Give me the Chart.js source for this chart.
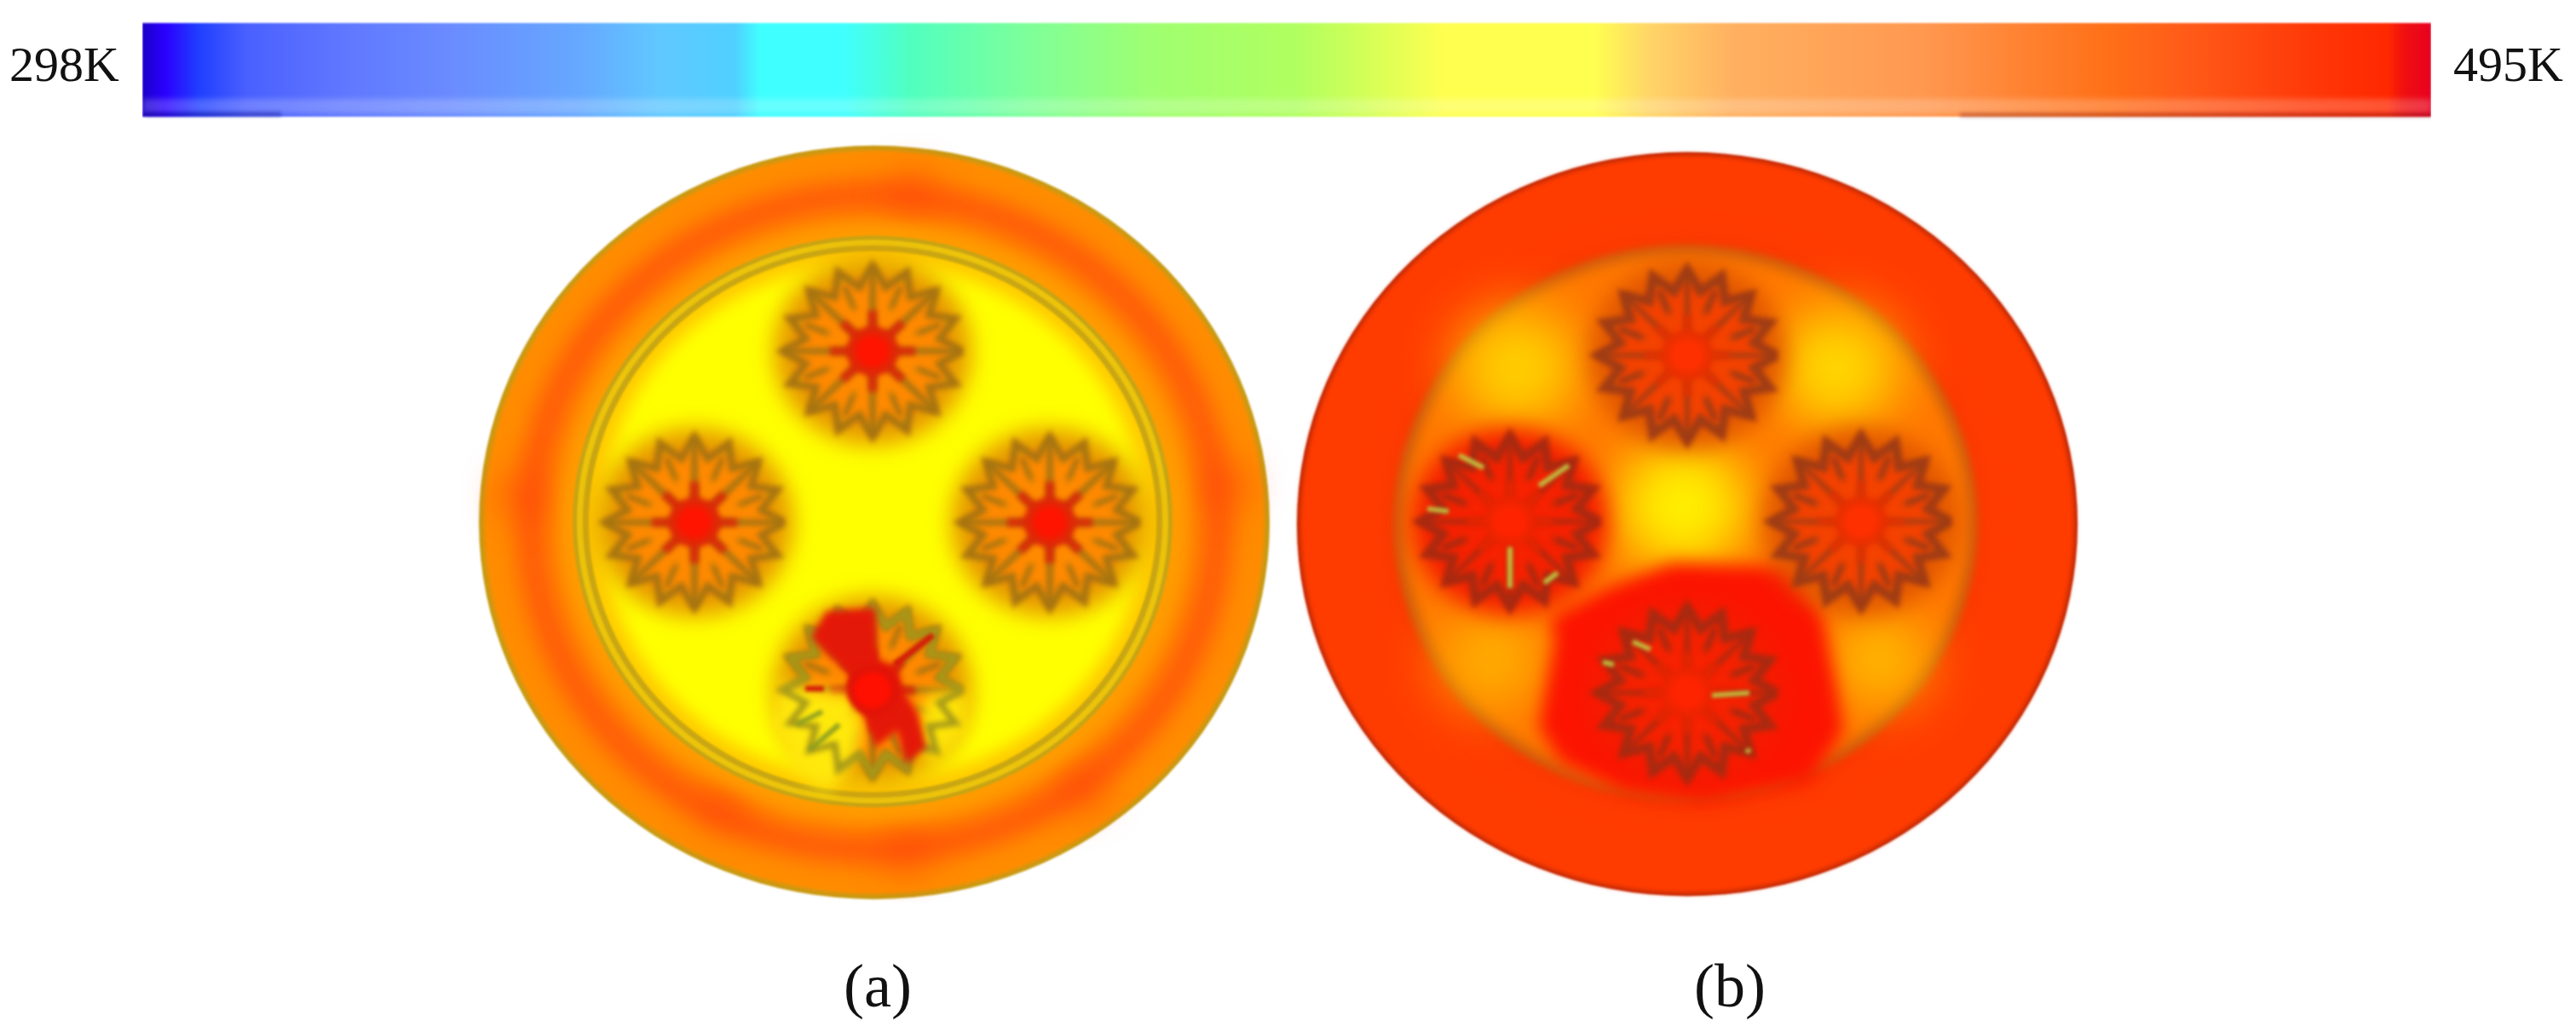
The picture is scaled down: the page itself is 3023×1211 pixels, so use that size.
<!DOCTYPE html>
<html>
<head>
<meta charset="utf-8">
<style>
html, body { margin: 0; padding: 0; background: #fff; }
canvas { display: block; }
</style>
<script src="https://cdn.jsdelivr.net/npm/chart.js@4"></script>
</head>
<body>
<canvas id="plate" width="3023" height="1211"></canvas>
<script>
// SCALE BAR
const scaleLabels = ['298K', '495K'];
const barStops = [0, .01, .025, .046, .089, .136, .191, .226, .259, .27, .306, .335, .389, .443, .504, .532, .569, .634, .659, .695, .778, .858, .894, .948, .981, .988, 1];
const barColors = ['#1a00c8', '#2a00ff', '#2040ff', '#4a60ff', '#6078ff', '#6a8cff', '#66a8ff', '#60c8ff', '#50d0ff', '#40ffff', '#40ffff', '#50ffc0', '#80ff98', '#a0ff70', '#b0ff60', '#d0ff58', '#ffff50', '#ffff50', '#ffd468', '#ffb060', '#ff9850', '#ff7018', '#ff5a18', '#ff3808', '#ff2800', '#f01010', '#e80020'];
const barLeft = 167, barRight = 2853, barTop = 27, barBottom = 137;

// PANELS (the source figure is squashed a little in height, so discs are drawn through a y squash)
const ySquash = 0.953;
const panelNames = ['(a)', '(b)'];
const panelTicks = [1030, 2030];
const centerA = [1026, 613], centerB = [1980, 615];
const radiiA = [464, 458, 403, 352, 340, 333];
const radiiB = [458, 455, 342, 333];

// GEARS
const gearAX = [1024, 815, 1232, 1024];
const gearAY = [412, 613, 613, 810];
const gearBX = [1980, 2184];
const gearBY = [417, 612];
const hotGearBX = [1772, 1980];
const hotGearBY = [612, 813];
const toothRadii = [105, 80];

// HOT SPOTS
const hotAX = [1071, 1065, 612, 1440, 850, 1270];
const hotAY = [228, 999, 582, 570, 945, 925];
const warmBX = [1781, 2156, 1975, 2206, 1750];
const warmBY = [432, 432, 594, 774, 774];
const warmBR = [72, 72, 78, 56, 60];
const warmBC = ['#ffd000', '#ffd800', '#fff000', '#ffbc00', '#ffb000'];

// IRREGULAR PATCHES
const flareA = [[970,717],[1027,713],[1030,773],[1053,783],[1060,810],[1077,837],[1087,877],[1063,897],[1053,857],[1027,877],[1017,847],[1003,817],[997,790],[973,770],[952,747],[970,717]];
const coolA = [[915,800],[1003,817],[1013,850],[1005,890],[970,930],[930,900],[905,850],[915,800]];
const coolA2 = [[1085,815],[1135,810],[1135,860],[1100,895],[1075,880],[1085,815]];
const patchB = [[1963,660],[2100,666],[2138,720],[2156,810],[2163,858],[2125,918],[2000,942],[1906,930],[1831,894],[1806,852],[1825,750],[1819,726],[1888,690],[1963,660]];
const shardsB = [[1712,534,1741,549],[1806,570,1841,546],[1675,597,1700,600],[1772,642,1772,690],[1812,684,1828,672],[1916,753,1937,762],[1881,777,1894,780],[2009,816,2053,813],[2050,879,2053,883]];
const shardsA = [[950,880,985,850],[935,850,965,835]];
const dashA = [[945,808,967,808],[1050,780,1095,745]];

let plateCtx = document.querySelector('#plate').getContext('2d');
let datasets = [];

function points(xs, ys) {
    return xs.map((x, i) => ({x: x, y: ys[i]}));
}

function addDiscs(xs, ys, r, fill, blur, stroke, strokeWidth, style, rotation) {
    datasets.push({
        data: points(xs, ys),
        showLine: false,
        pointStyle: style || 'circle',
        pointRotation: rotation || 0,
        pointRadius: r,
        pointBackgroundColor: fill,
        pointBorderColor: stroke || fill,
        pointBorderWidth: strokeWidth || 0,
        blur: blur
    });
}

function addShape(list, color, blur) {
    datasets.push({
        data: list.map(p => ({x: p[0], y: p[1]})),
        borderWidth: 0,
        pointRadius: 0,
        tension: 0,
        fill: 'shape',
        backgroundColor: color,
        blur: blur
    });
}

function addSegments(list, color, width, blur) {
    let data = [];
    list.forEach(s => {
        data.push({x: s[0], y: s[1]}, {x: s[2], y: s[3]}, {x: s[2], y: null});
    });
    datasets.push({data: data, borderColor: color, borderWidth: width, pointRadius: 0, tension: 0, fill: false, blur: blur});
}

function addGearOutline(cx, cy, color, width, blur) {
    let data = [];
    for (let k = 0; k <= 32; k++) {
        let a = k * Math.PI / 16;
        let r = toothRadii[k % 2];
        data.push({x: cx + r * Math.cos(a), y: cy + r * ySquash * Math.sin(a)});
    }
    datasets.push({data: data, borderColor: color, borderWidth: width, pointRadius: 0, tension: 0, fill: false, blur: blur});
}

function addGears(xs, ys, c) {
    addDiscs(xs, ys, 116, c.halo, 13);
    addDiscs(xs, ys, 90, c.body, 3);
    addDiscs(xs, ys, 86, 'rgba(0,0,0,0)', 3, c.line, c.fine, 'star', 22.5);
    addDiscs(xs, ys, 56, c.body, 4);
    xs.forEach((x, i) => addGearOutline(x, ys[i], c.line, c.tooth, 3));
    addDiscs(xs, ys, 103, 'rgba(0,0,0,0)', 3, c.line, c.spoke, 'star');
    addDiscs(xs, ys, 50, 'rgba(0,0,0,0)', 3, c.hubLine, c.spoke + 2, 'star');
    addDiscs(xs, ys, 31, c.hubLine, 3);
    addDiscs(xs, ys, 21, c.hub, 4);
}

// COLOUR BAR
let barGradient = plateCtx.createLinearGradient(barLeft, 0, barRight, 0);
barStops.forEach((s, i) => barGradient.addColorStop(s, barColors[i]));
datasets.push({
    data: [{x: barLeft, y: barTop}, {x: barRight, y: barTop}],
    borderWidth: 0,
    pointRadius: 0,
    fill: {value: barBottom},
    blur: 1,
    backgroundColor: barGradient
});
addShape([[barLeft,116],[barRight,116],[barRight,133],[barLeft,133],[barLeft,116]], 'rgba(255,255,255,0.2)', 3);
addSegments([[2300,135,2853,135]], 'rgba(110,20,30,0.35)', 5, 2);
addSegments([[170,134,330,134]], 'rgba(20,10,120,0.4)', 5, 2);

// PANEL A
addDiscs([centerA[0]], [centerA[1]], radiiA[0], '#c89a14', 1);
addDiscs([centerA[0]], [centerA[1]], radiiA[1], '#ff8c00', 2);
addDiscs([centerA[0]], [centerA[1]], radiiA[2], 'rgba(0,0,0,0)', 12, '#ff5c08', 36);
addDiscs(hotAX, hotAY, 28, 'rgba(255,64,10,0.55)', 22);
addDiscs([centerA[0]], [centerA[1]], radiiA[3] + 14, '#ff9c00', 8);
addDiscs([centerA[0] - 2], [centerA[1] - 1], radiiA[3], '#c8a414', 1);
addDiscs([centerA[0] - 2], [centerA[1] - 1], radiiA[3] - 5, '#ecc40c', 1);
addDiscs([centerA[0] - 2], [centerA[1] - 1], radiiA[4], '#c8a414', 1);
addDiscs([centerA[0] - 2], [centerA[1] - 1], radiiA[5], '#ffc800', 1);
addDiscs([centerA[0] - 2], [centerA[1] - 1], radiiA[5] - 14, '#ffff00', 10);
addGears(gearAX, gearAY, {halo: '#e89800', body: '#ff8a00', line: '#a87410', hubLine: '#dc2a08', hub: '#ff1400', fine: 7, tooth: 9, spoke: 8});
addShape(coolA, '#ffe80c', 9);
addShape(coolA2, '#fde408', 9);
addGearOutline(gearAX[3], gearAY[3], '#a89a18', 8, 3);
addSegments(shardsA, '#90a020', 6, 2);
addShape(flareA, '#e41808', 4);
addSegments(dashA, '#d81808', 7, 2);
addDiscs([gearAX[3]], [gearAY[3]], 30, '#e01408', 3);
addDiscs([gearAX[3]], [gearAY[3]], 22, '#ff1000', 3);

// PANEL B
addDiscs([centerB[0]], [centerB[1]], radiiB[0], '#b02408', 1);
addDiscs([centerB[0]], [centerB[1]], radiiB[1], '#ff3c00', 3);
addDiscs([centerB[0] - 2], [centerB[1] - 1], radiiB[2] + 12, '#fa3a00', 12);
addDiscs([centerB[0] - 2], [centerB[1] - 1], radiiB[2], '#c85a10', 4);
addDiscs([centerB[0] - 2], [centerB[1] - 1], radiiB[3], '#ff7800', 8);
warmBX.forEach((x, i) => addDiscs([x], [warmBY[i]], warmBR[i], warmBC[i], 32));
addShape(patchB, '#fc1400', 10);
addGears(gearBX, gearBY, {halo: 'rgba(224,84,0,0.9)', body: '#f44200', line: '#a03c14', hubLine: '#e83000', hub: '#ff3000', fine: 8, tooth: 11, spoke: 6});
addGears(hotGearBX, hotGearBY, {halo: 'rgba(244,28,0,0.95)', body: '#f62200', line: '#a82a10', hubLine: '#ec2400', hub: '#ff2400', fine: 8, tooth: 11, spoke: 6});
addSegments(shardsB, '#c0c040', 6, 2);

datasets.reverse();

// soft edges, set for the next dataset so the filler picks it up too
const softEdges = {
    id: 'softEdges',
    beforeDatasetsDraw(chart) {
        let last = chart.data.datasets.length - 1;
        chart.ctx.save();
        chart.ctx.scale(1, ySquash);
        chart.ctx.filter = 'blur(' + chart.data.datasets[last].blur + 'px)';
    },
    afterDatasetDraw(chart, args) {
        let next = chart.data.datasets[args.index - 1];
        chart.ctx.filter = next ? 'blur(' + next.blur + 'px)' : 'none';
    },
    afterDatasetsDraw(chart) {
        chart.ctx.restore();
    }
};

const labelFont = {family: 'Liberation Serif', size: 58};
const yMax = 1111 * ySquash;
const labelLevel = 80 * ySquash;

function noScalePadding(s) {
    s.paddingTop = 0;
    s.paddingBottom = 0;
    s.paddingLeft = 0;
    s.paddingRight = 0;
}

new Chart(plateCtx, {
    type: 'line',
    data: {datasets: datasets},
    plugins: [softEdges],
    options: {
        responsive: false,
        animation: false,
        events: [],
        layout: {padding: 0, autoPadding: false},
        plugins: {legend: {display: false}, tooltip: {enabled: false}, title: {display: false}},
        scales: {
            x: {
                type: 'linear',
                min: barLeft,
                max: barRight,
                grid: {display: false},
                border: {display: false},
                afterBuildTicks: (s) => { s.ticks = panelTicks.map(v => ({value: v})); },
                afterFit: (s) => { s.height = 100; noScalePadding(s); },
                ticks: {
                    autoSkip: false,
                    maxRotation: 0,
                    padding: 0,
                    color: '#111',
                    font: {family: 'Liberation Serif', size: 72},
                    callback: (v) => panelNames[panelTicks.indexOf(v)]
                }
            },
            y: {
                type: 'linear',
                position: 'left',
                reverse: true,
                min: 0,
                max: yMax,
                grid: {display: false},
                border: {display: false},
                afterBuildTicks: (s) => { s.ticks = [{value: labelLevel}]; },
                afterFit: (s) => { s.width = barLeft; noScalePadding(s); },
                ticks: {padding: 19, color: '#111', font: labelFont, callback: () => scaleLabels[0]}
            },
            yRight: {
                type: 'linear',
                position: 'right',
                reverse: true,
                min: 0,
                max: yMax,
                grid: {display: false},
                border: {display: false},
                afterBuildTicks: (s) => { s.ticks = [{value: labelLevel}]; },
                afterFit: (s) => { s.width = 3023 - barRight; noScalePadding(s); },
                ticks: {padding: 18, color: '#111', font: labelFont, callback: () => scaleLabels[1]}
            }
        }
    }
});
</script>
</body>
</html>
